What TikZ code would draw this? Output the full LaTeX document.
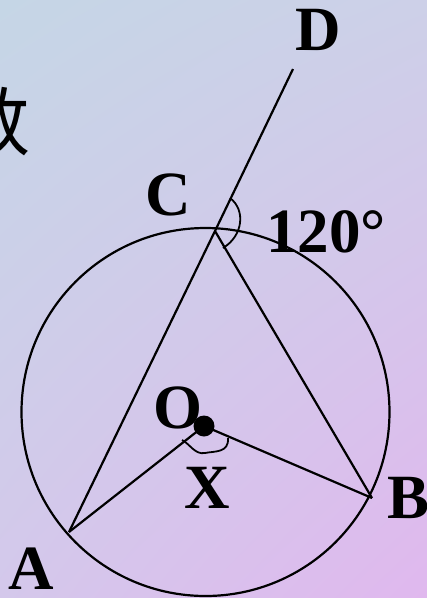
\documentclass[tikz,border=0pt]{standalone}
\usepackage{fontspec}
\usetikzlibrary{shadings}
\setmainfont{Liberation Serif}
\newfontfamily\cjk{Noto Sans CJK SC}
\definecolor{bgul}{RGB}{197,214,230}
\definecolor{bgur}{RGB}{205,208,232}
\definecolor{bgll}{RGB}{212,200,235}
\definecolor{bglr}{RGB}{224,184,238}
\begin{document}
\begin{tikzpicture}[x=1pt,y=-1pt,
  geo/.style={line width=2.2pt,black},
  mk/.style={line width=1.8pt,black},
  lbl/.style={font=\fontsize{63}{63}\selectfont\bfseries,anchor=base,inner sep=0pt}]
\useasboundingbox (0,0) rectangle (427,598);
\shade[upper left=bgul,upper right=bgur,lower left=bgll,lower right=bglr] (0,0) rectangle (427,598);
% partial character at left edge
\node[font=\cjk\fontsize{76}{76}\selectfont,anchor=east,inner sep=0pt] (shu) at (31,122) {数};
% points
\coordinate (Oc) at (205.5,412);
\coordinate (A) at (69,532);
\coordinate (B) at (372,498);
\coordinate (C) at (215,231);
\coordinate (D) at (293,69);
\coordinate (O) at (204,426);
% circle
\draw[geo] (Oc) circle[radius=184];
% lines
\draw[geo] (A) -- (C) -- (D);
\draw[geo] (C) -- (B);
\draw[geo] (O) -- (A);
\draw[geo] (O) -- (B);
\fill (O) circle[radius=10.5];
% angle mark at C
\coordinate (c1) at (230,198);
\coordinate (c2) at (223,248);
\draw[mk] (c1) .. controls (246,210) and (243,236) .. (c2);
% angle mark at O
\coordinate (o1) at (182,440);
\coordinate (o2) at (205,453);
\coordinate (o3) at (228,438);
\draw[mk] (o1) .. controls (190,444) and (195,455) .. (o2) .. controls (215,451) and (229,453) .. (o3);
% labels
\node[lbl] (lD) at (318,50) {D};
\node[lbl] (lC) at (168,215) {C};
\node[lbl] (l120) at (326,252) {120°};
\node[lbl] (lO) at (178,428) {O};
\node[lbl] (lX) at (207,508) {X};
\node[lbl] (lB) at (409,518) {B};
\node[lbl] (lA) at (31,589) {A};
\end{tikzpicture}
\end{document}
